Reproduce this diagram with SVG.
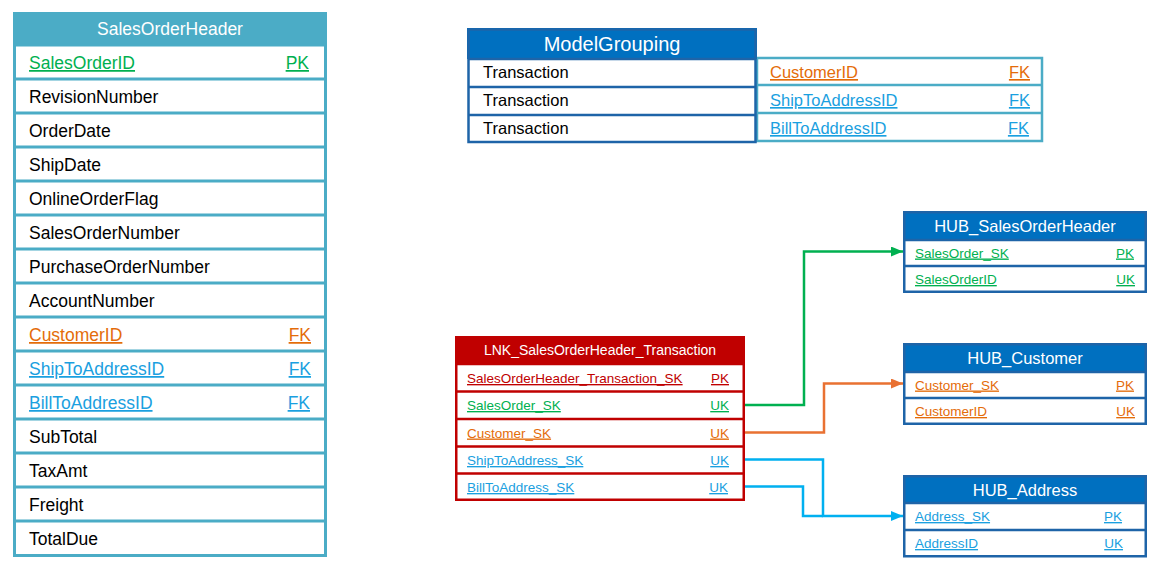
<svg xmlns="http://www.w3.org/2000/svg" width="1160" height="579" viewBox="0 0 1160 579">
<defs>
<style>
text{font-family:"Liberation Sans",Arial,sans-serif;}
.bg{fill:#ffffff;}
.teal{fill:#4BACC6;}
.tealS{fill:none;stroke:#4BACC6;stroke-width:3;}
.tealS2{fill:none;stroke:#4BACC6;stroke-width:2.5;}
.blueH{fill:#0070C0;}
.blueS{fill:none;stroke:#1E64A8;stroke-width:2.5;}
.redH{fill:#C00000;}
.redS{fill:none;stroke:#C00000;stroke-width:2.5;}
.ttl{fill:#ffffff;text-anchor:middle;}
.t18{font-size:17.5px;}
.t16{font-size:16.5px;}
.t20{font-size:20px;}
.t14{font-size:14px;}
.t13{font-size:13.5px;}
.blk{fill:#000000;}
.grn{fill:#00B050;text-decoration:underline;}
.org{fill:#E46C0A;text-decoration:underline;}
.blu{fill:#1AA0E0;text-decoration:underline;}
.red{fill:#C00000;text-decoration:underline;}
.end{text-anchor:end;}
.cn{fill:none;stroke-width:2.5;}
</style>
<marker id="ag" viewBox="0 0 12 10" refX="12" refY="5" markerWidth="12" markerHeight="10" markerUnits="userSpaceOnUse" orient="auto"><polygon points="0,0 12,5 0,10" fill="#00B050"/></marker>
<marker id="ao" viewBox="0 0 12 10" refX="12" refY="5" markerWidth="12" markerHeight="10" markerUnits="userSpaceOnUse" orient="auto"><polygon points="0,0 12,5 0,10" fill="#E97132"/></marker>
<marker id="ab" viewBox="0 0 12 10" refX="12" refY="5" markerWidth="12" markerHeight="10" markerUnits="userSpaceOnUse" orient="auto"><polygon points="0,0 12,5 0,10" fill="#00B0F0"/></marker>
</defs>
<rect width="1160" height="579" fill="#ffffff"/>

<g id="SalesOrderHeader">
<rect class="bg" x="14.5" y="13.5" width="311" height="542"/>
<rect class="teal" x="13" y="12" width="314" height="33"/>
<rect class="tealS" x="14.5" y="13.5" width="311" height="542"/>
<path class="tealS" d="M14,45H326M14,79H326M14,113H326M14,147H326M14,181H326M14,215H326M14,249H326M14,283H326M14,317H326M14,351H326M14,385H326M14,419H326M14,453H326M14,487H326M14,521H326"/>
<text class="ttl t18" x="170" y="35">SalesOrderHeader</text>
<text class="t18 grn" x="29" y="69">SalesOrderID</text><text class="t18 grn end" x="309" y="69">PK</text>
<text class="t18 blk" x="29" y="103">RevisionNumber</text>
<text class="t18 blk" x="29" y="137">OrderDate</text>
<text class="t18 blk" x="29" y="171">ShipDate</text>
<text class="t18 blk" x="29" y="205">OnlineOrderFlag</text>
<text class="t18 blk" x="29" y="239">SalesOrderNumber</text>
<text class="t18 blk" x="29" y="273">PurchaseOrderNumber</text>
<text class="t18 blk" x="29" y="307">AccountNumber</text>
<text class="t18 org" x="29" y="341">CustomerID</text><text class="t18 org end" x="311" y="341">FK</text>
<text class="t18 blu" x="29" y="375">ShipToAddressID</text><text class="t18 blu end" x="311" y="375">FK</text>
<text class="t18 blu" x="29" y="409">BillToAddressID</text><text class="t18 blu end" x="310" y="409">FK</text>
<text class="t18 blk" x="29" y="443">SubTotal</text>
<text class="t18 blk" x="29" y="477">TaxAmt</text>
<text class="t18 blk" x="29" y="511">Freight</text>
<text class="t18 blk" x="29" y="545">TotalDue</text>
</g>

<g id="ModelGrouping">
<rect class="bg" x="757" y="58" width="285" height="83"/>
<rect class="tealS2" x="757" y="58" width="285" height="83"/>
<path class="tealS2" d="M757,85H1042M757,113H1042"/>
<rect class="blueH" x="467" y="28" width="290" height="31"/>
<rect class="bg" x="468.5" y="59" width="287" height="83"/>
<rect class="blueS" x="468.5" y="29.5" width="287" height="112.5"/>
<path class="blueS" d="M468,59H756M468,87H756M468,115H756"/>
<text class="ttl t20" x="612" y="51">ModelGrouping</text>
<text class="t16 blk" x="483" y="78">Transaction</text>
<text class="t16 blk" x="483" y="106">Transaction</text>
<text class="t16 blk" x="483" y="134">Transaction</text>
<text class="t16 org" x="770" y="78">CustomerID</text><text class="t16 org end" x="1030" y="78">FK</text>
<text class="t16 blu" x="770" y="106">ShipToAddressID</text><text class="t16 blu end" x="1030" y="106">FK</text>
<text class="t16 blu" x="770" y="134">BillToAddressID</text><text class="t16 blu end" x="1029" y="134">FK</text>
</g>

<g id="LNK_SalesOrderHeader_Transaction">
<rect class="bg" x="456" y="337" width="288" height="163"/>
<rect class="redH" x="455" y="336" width="290" height="28"/>
<rect class="redS" x="456.25" y="337.25" width="287.5" height="162.5"/>
<path class="redS" d="M456,364H744M456,391.5H744M456,419H744M456,446.5H744M456,473.5H744"/>
<text class="ttl t14" x="600" y="355">LNK_SalesOrderHeader_Transaction</text>
<text class="t13 red" x="467" y="383">SalesOrderHeader_Transaction_SK</text><text class="t13 red end" x="729" y="383">PK</text>
<text class="t13 grn" x="467" y="410">SalesOrder_SK</text><text class="t13 grn end" x="729" y="410">UK</text>
<text class="t13 org" x="467" y="437.5">Customer_SK</text><text class="t13 org end" x="729" y="437.5">UK</text>
<text class="t13 blu" x="467" y="465">ShipToAddress_SK</text><text class="t13 blu end" x="729" y="465">UK</text>
<text class="t13 blu" x="467" y="492">BillToAddress_SK</text><text class="t13 blu end" x="728" y="492">UK</text>
</g>

<g id="HUB_SalesOrderHeader">
<rect class="bg" x="904" y="240" width="242" height="52"/>
<rect class="blueH" x="903" y="211" width="244" height="29"/>
<rect class="blueS" x="904.25" y="212.25" width="241.5" height="79.5"/>
<path class="blueS" d="M904,240H1146M904,266H1146"/>
<text class="ttl t16" x="1025" y="232">HUB_SalesOrderHeader</text>
<text class="t13 grn" x="915" y="257.5">SalesOrder_SK</text><text class="t13 grn end" x="1134" y="257.5">PK</text>
<text class="t13 grn" x="915" y="284">SalesOrderID</text><text class="t13 grn end" x="1135" y="284">UK</text>
</g>

<g id="HUB_Customer">
<rect class="bg" x="904" y="372" width="242" height="52"/>
<rect class="blueH" x="903" y="343" width="244" height="29"/>
<rect class="blueS" x="904.25" y="344.25" width="241.5" height="79.5"/>
<path class="blueS" d="M904,372H1146M904,398H1146"/>
<text class="ttl t16" x="1025" y="364">HUB_Customer</text>
<text class="t13 org" x="915" y="389.5">Customer_SK</text><text class="t13 org end" x="1134" y="389.5">PK</text>
<text class="t13 org" x="915" y="416">CustomerID</text><text class="t13 org end" x="1135" y="416">UK</text>
</g>

<g id="HUB_Address">
<rect class="bg" x="904" y="503" width="242" height="53"/>
<rect class="blueH" x="903" y="475" width="244" height="28"/>
<rect class="blueS" x="904.25" y="476.25" width="241.5" height="80"/>
<path class="blueS" d="M904,503H1146M904,530H1146"/>
<text class="ttl t16" x="1025" y="495.5">HUB_Address</text>
<text class="t13 blu" x="915" y="521">Address_SK</text><text class="t13 blu end" x="1122" y="521">PK</text>
<text class="t13 blu" x="915" y="548">AddressID</text><text class="t13 blu end" x="1123" y="548">UK</text>
</g>

<g id="connectors">
<path class="cn" stroke="#00B050" d="M745,405H804V251.5H903" marker-end="url(#ag)"/>
<path class="cn" stroke="#E97132" d="M745,432.5H824V383.5H903" marker-end="url(#ao)"/>
<path class="cn" stroke="#00B0F0" d="M745,459.5H823V516H903" marker-end="url(#ab)"/>
<path class="cn" stroke="#00B0F0" d="M745,486.5H803V516H823"/>
</g>
</svg>
